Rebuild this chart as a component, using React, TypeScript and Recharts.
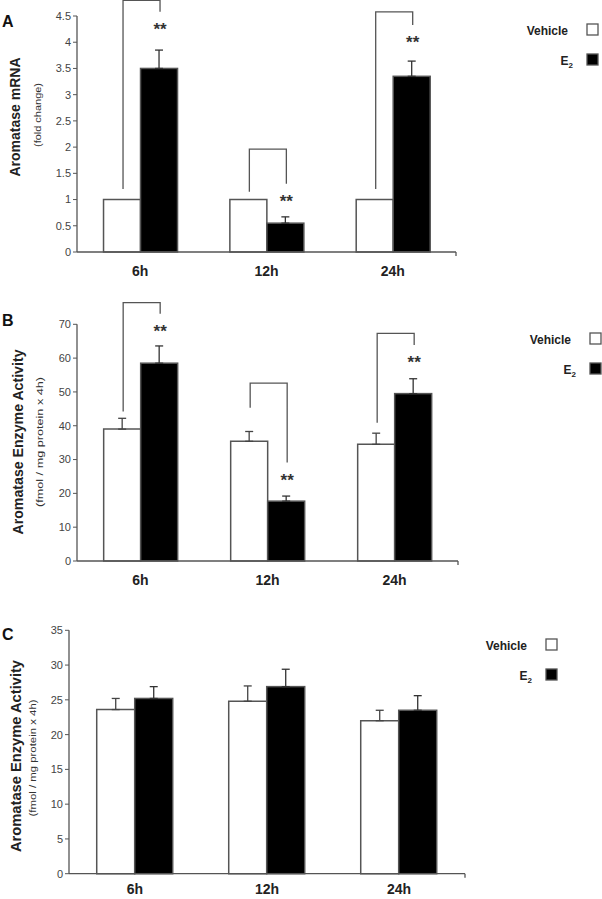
import React from 'react';
import { BarChart, Bar, XAxis, YAxis, ErrorBar } from 'recharts';

const FONT = '"Liberation Sans", Arial, sans-serif';

const categories = ['6h', '12h', '24h'];
const seriesNames = ['Vehicle', 'E2'];

// A: aromatase mRNA (fold change)
const vehicleA = [1, 1, 1];
const e2A = [3.5, 0.55, 3.35];
const e2ErrA = [0.35, 0.12, 0.29];
const bracketLowA = [1.2, 1.15, 1.2];
const bracketTopA = [4.8, 1.96, 4.58];
const bracketHighA = [4.58, 1.3, 4.33];
const ticksA = [0, 0.5, 1, 1.5, 2, 2.5, 3, 3.5, 4, 4.5];

// B: enzyme activity, E2 effect
const vehicleB = [39, 35.4, 34.5];
const vehicleErrB = [3.2, 2.9, 3.3];
const e2B = [58.5, 17.7, 49.5];
const e2ErrB = [5.1, 1.5, 4.4];
const bracketLowB = [44.2, 45.3, 40.9];
const bracketTopB = [76.4, 52.6, 67.3];
const bracketHighB = [73.1, 29.1, 63.9];
const ticksB = [0, 10, 20, 30, 40, 50, 60, 70];

// C: enzyme activity, no effect
const vehicleC = [23.6, 24.8, 22.0];
const vehicleErrC = [1.6, 2.2, 1.5];
const e2C = [25.2, 26.9, 23.5];
const e2ErrC = [1.7, 2.5, 2.1];
const ticksC = [0, 5, 10, 15, 20, 25, 30, 35];

type Row = {
  name: string;
  veh: number;
  e2: number;
  vehErr: number[] | null;
  e2Err: number[];
  bLow?: number;
  bTop?: number;
  bHigh?: number;
};

const buildRows = (
  veh: number[], vehErr: number[] | null, e2: number[], e2Err: number[],
  bLow?: number[], bTop?: number[], bHigh?: number[]
): Row[] =>
  categories.map((name, i) => ({
    name,
    veh: veh[i],
    e2: e2[i],
    vehErr: vehErr ? [0, vehErr[i]] : null,
    e2Err: [0, e2Err[i]],
    bLow: bLow ? bLow[i] : undefined,
    bTop: bTop ? bTop[i] : undefined,
    bHigh: bHigh ? bHigh[i] : undefined,
  }));

const LINE = '#555';

// E2 bar + significance bracket, positioned with the bar's own scale
const E2Shape = (props: any) => {
  const { x, y, width, height, payload } = props;
  const base = y + height;
  const perUnit = payload.e2 ? height / payload.e2 : 0;
  const py = (v: number) => base - v * perUnit;
  const hasBracket = payload.bTop != null;
  const lx = x - width / 2 + 1;
  const rx = x + width / 2 + 1;
  return (
    <g>
      <rect x={x} y={y} width={width} height={height} fill="#000" stroke={LINE} strokeWidth={1.5} />
      {hasBracket && (
        <g>
          <polyline
            points={`${lx},${py(payload.bLow)} ${lx},${py(payload.bTop)} ${rx},${py(payload.bTop)} ${rx},${py(payload.bHigh)}`}
            fill="none"
            stroke={LINE}
            strokeWidth={1.3}
          />
          <text x={rx} y={py(payload.bHigh) + 23} textAnchor="middle" fontFamily={FONT} fontWeight="bold" fontSize={17} fill="#333">
            **
          </text>
        </g>
      )}
    </g>
  );
};

type Panel = {
  letter: string;
  top: number;
  height: number;
  plotLeft: number;
  plotRight: number;
  plotTop: number;
  plotBottom: number;
  xAxisH: number;
  xTickMargin: number;
  rows: Row[];
  domain: [number, number];
  ticks: number[];
  title: string;
  subtitle: string;
  titleX: number;
  titleY: number;
  titleLen: number;
  subX: number;
  subY: number;
  subLen: number;
  letterY: number;
  legX: number;
  legY: number;
};

const panels: Panel[] = [
  {
    letter: 'A', top: 0, height: 285, plotLeft: 77, plotRight: 456, plotTop: 16, plotBottom: 252, xAxisH: 30, xTickMargin: 8,
    rows: buildRows(vehicleA, null, e2A, e2ErrA, bracketLowA, bracketTopA, bracketHighA),
    domain: [0, 4.5], ticks: ticksA,
    title: 'Aromatase mRNA', subtitle: '(fold change)',
    titleX: 20, titleY: 117, titleLen: 119, subX: 41, subY: 115, subLen: 64, letterY: 27,
    legX: 587, legY: 35,
  },
  {
    letter: 'B', top: 290, height: 305, plotLeft: 77, plotRight: 458, plotTop: 324.3, plotBottom: 561, xAxisH: 30, xTickMargin: 8,
    rows: buildRows(vehicleB, vehicleErrB, e2B, e2ErrB, bracketLowB, bracketTopB, bracketHighB),
    domain: [0, 70], ticks: ticksB,
    title: 'Aromatase Enzyme Activity', subtitle: '(fmol / mg protein x 4h)',
    titleX: 23, titleY: 442, titleLen: 185, subX: 43, subY: 442, subLen: 130, letterY: 326,
    legX: 590, legY: 344,
  },
  {
    letter: 'C', top: 600, height: 299, plotLeft: 69, plotRight: 465, plotTop: 630.3, plotBottom: 873.7, xAxisH: 25, xTickMargin: 4,
    rows: buildRows(vehicleC, vehicleErrC, e2C, e2ErrC),
    domain: [0, 35], ticks: ticksC,
    title: 'Aromatase Enzyme Activity', subtitle: '(fmol / mg protein x 4h)',
    titleX: 21, titleY: 756, titleLen: 192, subX: 36, subY: 758, subLen: 117, letterY: 640,
    legX: 546, legY: 650,
  },
];

const Y_AXIS_W = 40;

const PanelChart = ({ p }: { p: Panel }) => {
  const margin = {
    top: p.plotTop - p.top,
    left: p.plotLeft - Y_AXIS_W,
    right: 602 - p.plotRight,
    bottom: p.top + p.height - p.plotBottom - p.xAxisH,
  };
  return (
    <div style={{ position: 'absolute', left: 0, top: p.top }}>
      <BarChart width={602} height={p.height} data={p.rows} margin={margin} barCategoryGap="21%" barGap={0}>
        <XAxis
          dataKey="name"
          height={p.xAxisH}
          tickLine={false}
          tickSize={6}
          tickMargin={p.xTickMargin}
          axisLine={{ stroke: LINE, strokeWidth: 1.3 }}
          tick={{ fontFamily: FONT, fontSize: 14, fontWeight: 'bold', fill: '#222' }}
        />
        <YAxis
          width={Y_AXIS_W}
          domain={p.domain}
          ticks={p.ticks}
          interval={0}
          tickSize={4}
          tickMargin={2}
          axisLine={{ stroke: LINE, strokeWidth: 1.3 }}
          tickLine={{ stroke: LINE }}
          tick={{ fontFamily: FONT, fontSize: 11, fill: '#444' }}
        />
        <Bar dataKey="veh" name={seriesNames[0]} fill="#fff" stroke={LINE} strokeWidth={1.5} isAnimationActive={false}>
          {p.rows[0].vehErr && (
            <ErrorBar dataKey="vehErr" direction="y" width={4} stroke="#444" strokeWidth={1.3} />
          )}
        </Bar>
        <Bar dataKey="e2" name={seriesNames[1]} fill="#000" shape={E2Shape} isAnimationActive={false}>
          <ErrorBar dataKey="e2Err" direction="y" width={4} stroke="#333" strokeWidth={1.3} />
        </Bar>
      </BarChart>
    </div>
  );
};

const PanelText = ({ p }: { p: Panel }) => {
  const boxes = [
    { y: p.legY - 11, fill: '#fff' },
    { y: p.legY + 30 - 11, fill: '#000' },
  ];
  const textRight = p.legX - 19;
  return (
    <g fontFamily={FONT}>
      <text x={2} y={p.letterY} fontSize={16} fontWeight="bold" fill="#111">{p.letter}</text>
      <text
        transform={`translate(${p.titleX},${p.titleY}) rotate(-90)`}
        textAnchor="middle"
        fontSize={14}
        fontWeight="bold"
        fill="#222"
        textLength={p.titleLen}
        lengthAdjust="spacingAndGlyphs"
      >
        {p.title}
      </text>
      <text
        transform={`translate(${p.subX},${p.subY}) rotate(-90)`}
        textAnchor="middle"
        fontSize={9}
        fill="#333"
        textLength={p.subLen}
        lengthAdjust="spacingAndGlyphs"
      >
        {p.subtitle}
      </text>
      {/* end tick on x axis */}
      <line x1={p.plotRight} y1={p.plotBottom} x2={p.plotRight} y2={p.plotBottom + 4} stroke={LINE} strokeWidth={1.3} />
      {/* legend */}
      <text x={textRight} y={p.legY} textAnchor="end" fontSize={12} fontWeight="bold" fill="#222">
        {seriesNames[0]}
      </text>
      <text x={textRight + 5} y={p.legY + 30} textAnchor="end" fontSize={12} fontWeight="bold" fill="#222">
        E<tspan fontSize={8} dy={3}>2</tspan>
      </text>
      {boxes.map((b, i) => (
        <rect key={i} x={p.legX} y={b.y} width={11} height={11} fill={b.fill} stroke={LINE} strokeWidth={1.3} />
      ))}
    </g>
  );
};

export default function App() {
  return (
    <div style={{ position: 'absolute', left: 0, top: 0, width: 602, height: 899, overflow: 'hidden', background: '#fff' }}>
      {panels.map((p) => (
        <PanelChart key={p.letter} p={p} />
      ))}
      <svg width={602} height={899} style={{ position: 'absolute', left: 0, top: 0, pointerEvents: 'none' }}>
        {panels.map((p) => (
          <PanelText key={p.letter} p={p} />
        ))}
      </svg>
    </div>
  );
}
